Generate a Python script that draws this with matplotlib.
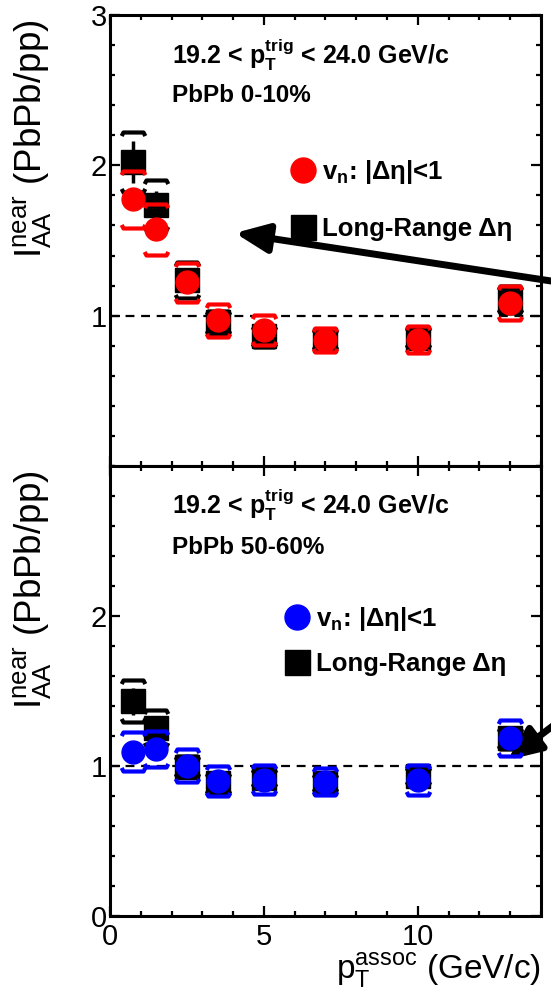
import numpy as np
import matplotlib
matplotlib.use("Agg")
import matplotlib.pyplot as plt
from matplotlib.path import Path
from matplotlib.lines import Line2D

plt.rcParams['font.family'] = ['Liberation Sans', 'DejaVu Sans']
plt.rcParams['mathtext.fontset'] = 'custom'
plt.rcParams['mathtext.rm'] = 'Liberation Sans'
plt.rcParams['mathtext.it'] = 'Liberation Sans:italic'
plt.rcParams['mathtext.bf'] = 'Liberation Sans:bold'

# associated pT bin centres (GeV/c)
pt_assoc = [0.75, 1.5, 2.5, 3.5, 5.0, 7.0, 10.0, 13.0]

# PbPb 0-10%
central_vn = [1.775, 1.576, 1.221, 0.969, 0.907, 0.840, 0.840, 1.084]
central_vn_stat = [0.03, 0.03, 0.02, 0.02, 0.02, 0.02, 0.02, 0.03]
central_vn_sys = [0.19, 0.17, 0.13, 0.11, 0.10, 0.08, 0.09, 0.11]
central_lr = [2.025, 1.737, 1.240, 0.955, 0.862, 0.840, 0.854, 1.106]
central_lr_stat = [0.14, 0.09, 0.04, 0.03, 0.03, 0.03, 0.03, 0.05]
central_lr_sys = [0.20, 0.165, 0.12, 0.075, 0.07, 0.07, 0.07, 0.09]

# PbPb 50-60%
periph_vn = [1.094, 1.110, 1.000, 0.900, 0.907, 0.896, 0.907, 1.184]
periph_vn_stat = [0.03, 0.03, 0.02, 0.02, 0.02, 0.02, 0.02, 0.03]
periph_vn_sys = [0.13, 0.12, 0.11, 0.10, 0.097, 0.09, 0.10, 0.12]
periph_lr = [1.430, 1.250, 0.995, 0.885, 0.920, 0.887, 0.930, 1.185]
periph_lr_stat = [0.09, 0.07, 0.03, 0.03, 0.03, 0.03, 0.03, 0.04]
periph_lr_sys = [0.14, 0.12, 0.07, 0.07, 0.06, 0.06, 0.06, 0.07]

# systematic brackets (ROOT style)
UP = Path([(-1, -0.3), (-0.85, 0), (0.85, 0), (1, -0.3)])
DOWN = Path([(-1, 0.3), (-0.85, 0), (0.85, 0), (1, 0.3)])


def draw_set(ax, x, y, stat, sys, color, marker, msize, z):
    x = np.array(x)
    y = np.array(y)
    sys = np.array(sys)
    ax.plot(x, y + sys, ls='none', marker=UP, ms=17, mfc='none', mec=color, mew=3, zorder=z)
    ax.plot(x, y - sys, ls='none', marker=DOWN, ms=17, mfc='none', mec=color, mew=3, zorder=z)
    ax.errorbar(x, y, yerr=stat, fmt=marker, color=color, ms=msize, elinewidth=2.5,
                capsize=0, zorder=z + 0.5)


def style_axes(ax):
    ax.set_xlim(0, 14)
    ax.set_ylim(0, 3)
    ax.xaxis.set_major_locator(plt.MultipleLocator(5))
    ax.xaxis.set_minor_locator(plt.MultipleLocator(1))
    ax.yaxis.set_major_locator(plt.MultipleLocator(1))
    ax.yaxis.set_minor_locator(plt.MultipleLocator(0.2))
    ax.tick_params(which='both', direction='in', top=True, right=True, width=1.6)
    ax.tick_params(which='major', length=7, labelsize=21, pad=2)
    ax.tick_params(which='minor', length=3.5)
    ax.tick_params(axis='x', which='major', pad=5)
    for s in ax.spines.values():
        s.set_linewidth(2.2)
    ax.axhline(1.0, color='black', ls=(0, (4, 3)), lw=1.6, zorder=1)
    ax.set_ylabel(r'$\mathrm{I_{AA}^{near}}$ (PbPb/pp)', fontsize=26.5, loc='top')
    ax.yaxis.set_label_coords(-0.132, 0.99)


fig = plt.figure(figsize=(5.51, 9.94), dpi=100)
ax1 = fig.add_axes([0.1996, 0.5312, 0.7822, 0.4537])
ax2 = fig.add_axes([0.1996, 0.0785, 0.7822, 0.4527])

leg_prop = {'weight': 'bold', 'size': 18.5}

# top panel: 0-10%
draw_set(ax1, pt_assoc, central_lr, central_lr_stat, central_lr_sys, 'black', 's', 17, 3)
draw_set(ax1, pt_assoc, central_vn, central_vn_stat, central_vn_sys, 'red', 'o', 16.5, 5)
style_axes(ax1)
ax1.set_yticks([1, 2, 3])
ax1.tick_params(axis='x', labelbottom=False)
ax1.text(0.144, 0.911, r'19.2 < $\mathbf{p_{T}^{trig}}$ < 24.0 GeV/c', transform=ax1.transAxes,
         fontsize=18, fontweight='bold', va='center', ha='left')
ax1.text(0.144, 0.821, 'PbPb 0-10%', transform=ax1.transAxes,
         fontsize=17.5, fontweight='bold', va='center', ha='left')
h_red = Line2D([], [], ls='none', marker='o', color='red', ms=18)
h_blk = Line2D([], [], ls='none', marker='s', color='black', ms=18)
ax1.legend([h_red, h_blk], [r'$\mathbf{v_n}$: |Δη|<1', 'Long-Range Δη'],
           loc='upper left', bbox_to_anchor=(0.418, 0.682), frameon=False,
           prop=leg_prop, handlelength=1.0, handletextpad=0.25,
           labelspacing=1.18, borderpad=0, borderaxespad=0)
ax1.annotate('', xy=(4.06, 1.55), xytext=(16.6, 1.16), annotation_clip=False,
             arrowprops=dict(arrowstyle='-|>,head_length=0.8,head_width=0.35',
                             color='black', lw=5, mutation_scale=25, shrinkA=0, shrinkB=0))

# bottom panel: 50-60%
draw_set(ax2, pt_assoc, periph_lr, periph_lr_stat, periph_lr_sys, 'black', 's', 17, 3)
draw_set(ax2, pt_assoc, periph_vn, periph_vn_stat, periph_vn_sys, 'blue', 'o', 16.5, 5)
style_axes(ax2)
ax2.set_yticks([0, 1, 2])
ax2.set_xlabel(r'$\mathrm{p_{T}^{assoc}}$ (GeV/c)', fontsize=24, loc='right', labelpad=0)
ax2.text(0.144, 0.913, r'19.2 < $\mathbf{p_{T}^{trig}}$ < 24.0 GeV/c', transform=ax2.transAxes,
         fontsize=18, fontweight='bold', va='center', ha='left')
ax2.text(0.144, 0.818, 'PbPb 50-60%', transform=ax2.transAxes,
         fontsize=17.5, fontweight='bold', va='center', ha='left')
h_blue = Line2D([], [], ls='none', marker='o', color='blue', ms=18)
ax2.legend([h_blue, h_blk], [r'$\mathbf{v_n}$: |Δη|<1', 'Long-Range Δη'],
           loc='upper left', bbox_to_anchor=(0.404, 0.692), frameon=False,
           prop=leg_prop, handlelength=1.0, handletextpad=0.25,
           labelspacing=0.75, borderpad=0, borderaxespad=0)
ax2.annotate('', xy=(12.92, 1.04), xytext=(16.6, 1.61), annotation_clip=False,
             arrowprops=dict(arrowstyle='-|>,head_length=0.8,head_width=0.35',
                             color='black', lw=5, mutation_scale=25, shrinkA=0, shrinkB=0))

fig.savefig('out.png', dpi=100, facecolor='white')
